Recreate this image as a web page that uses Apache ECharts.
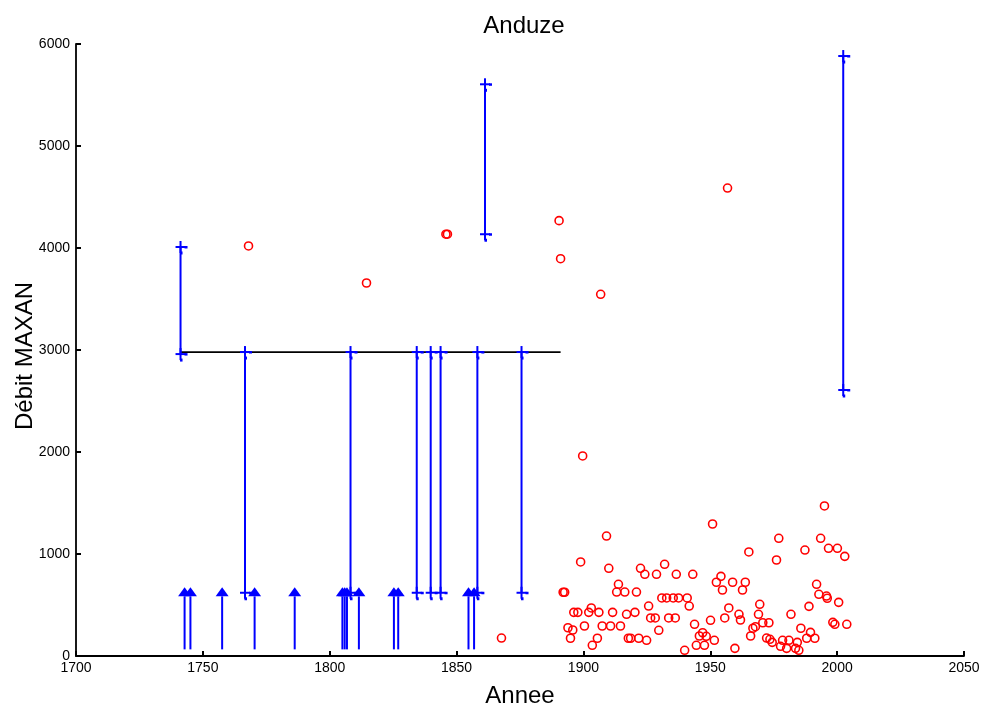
<!DOCTYPE html>
<html>
<head>
<meta charset="utf-8">
<script src="https://cdn.jsdelivr.net/npm/echarts@6/dist/echarts.min.js"></script>
<style>html,body{margin:0;padding:0;background:#fff}#c{width:981px;height:704px}</style>
</head>
<body>
<div id="c"></div>
<script>
// ---- data ----
var xTicks = [1700, 2050, 50];
var yTicks = [0, 6000, 1000];

// perception threshold line
var thresholdStart = 1741.2, thresholdEnd = 1891.0, thresholdValue = 2980;

// historical floods known as intervals [year, low, high]
var intervalYears = [1741.2, 1766.6, 1808.2, 1834.3, 1839.8, 1843.7, 1858.2, 1875.6, 1861.2, 2002.4];
var intervalLow   = [2960,   620,    620,    620,    620,    620,    620,    620,    4135,   2608];
var intervalHigh  = [4010,   2980,   2980,   2980,   2980,   2980,   2980,   2980,   5605,   5882];

// floods known only as lower bound (arrows)
var arrowYears = [1742.8, 1745.1, 1757.6, 1770.4, 1786.2, 1805.0, 1805.9, 1806.8, 1811.5, 1825.3, 1827.0, 1854.7, 1856.9];
var arrowLow = 65, arrowHigh = 673;

// observed maxima [year, value]
var observed = [
  [1768.0,4020],[1814.5,3657],[1845.8,4135],[1846.4,4135],[1867.7,176],
  [1890.4,4268],[1891.0,3895],[1906.8,3546],[1899.7,1961],[1956.8,4588],
  [1909.1,1176],[1898.9,922],[1910.0,860],[1950.9,1294],[1965.2,1020],[1892.0,625],[1892.6,625],
  [1922.5,860],[1924.2,801],[1928.8,801],[1932.0,899],[1936.6,801],[1943.1,801],[1913.8,703],
  [1913.1,627],[1916.3,627],[1920.9,627],[1952.4,723],[1954.2,781],[1954.8,647],[1958.8,723],
  [1963.8,723],[1962.7,647],[1930.9,569],[1932.8,569],[1935.4,569],[1937.5,569],[1940.9,569],
  [1925.7,490],[1941.7,490],[1903.1,471],[1896.2,428],[1897.8,428],[1902.1,428],[1906.1,428],
  [1911.5,428],[1917.0,409],[1920.3,428],[1926.5,373],[1928.3,373],[1933.6,373],[1936.2,373],
  [1957.3,471],[1955.7,373],[1961.3,409],[1961.9,353],[1969.5,507],[1969.0,409],[1893.9,277],
  [1895.8,255],[1900.4,294],[1907.4,294],[1910.7,294],[1914.6,294],[1943.8,311],[1950.1,350],
  [1929.7,252],[1894.9,174],[1905.5,174],[1903.5,105],[1917.7,174],[1918.6,174],[1921.8,174],
  [1924.9,154],[1939.9,56],[1944.5,105],[1947.7,105],[1945.7,196],[1947.0,228],[1948.4,193],
  [1951.6,154],[1959.7,75],[1965.9,196],[1966.8,272],[1967.8,287],
  [1995.0,1471],[1977.0,1154],[1993.5,1154],[1987.3,1039],[1996.6,1056],[2000.1,1056],
  [2003.0,977],[1976.1,941],[1991.9,703],[1992.8,605],[1995.8,588],[1996.1,566],[2000.6,526],
  [1988.9,487],[1981.8,409],[1970.7,326],[1973.1,326],[1972.2,176],[1973.5,164],[1974.4,134],
  [1978.5,154],[1981.0,154],[1984.3,134],[1977.7,95],[1980.1,75],[1983.6,75],[1984.9,56],
  [1985.7,272],[1989.5,232],[1988.0,174],[1991.2,174],[1998.3,330],[1999.1,311],[2003.8,311]
];

// ---- chart ----
var FONT = 'Liberation Sans, Arial, sans-serif';
var BLUE = '#0000ff';
var chart = echarts.init(document.getElementById('c'), null, {renderer: 'canvas'});

var intervalData = intervalYears.map(function (y, i) { return [y, intervalLow[i], intervalHigh[i]]; });
var arrowData = arrowYears.map(function (y) { return [y, arrowLow, arrowHigh]; });

function plusMarker(p, style) {
  return [
    {type: 'line', shape: {x1: p[0] - 5, y1: p[1], x2: p[0] + 5, y2: p[1]}, style: style},
    {type: 'line', shape: {x1: p[0], y1: p[1] - 6, x2: p[0], y2: p[1] + 6}, style: style},
    {type: 'rect', shape: {x: p[0] + 4, y: p[1] - 1, width: 3, height: 2.5}, style: {fill: BLUE}},
    {type: 'rect', shape: {x: p[0] - 0.5, y: p[1] + 4.5, width: 2.5, height: 3}, style: {fill: BLUE}}
  ];
}

function plain(v) { return String(v); }

var option = {
  animation: false,
  backgroundColor: '#ffffff',
  title: {
    text: 'Anduze', left: 519, top: 9, textAlign: 'center',
    textStyle: {fontFamily: FONT, fontSize: 24, fontWeight: 'normal', color: '#000'}
  },
  grid: {left: 76, right: 17, top: 44, bottom: 48, outerBoundsMode: 'none', containLabel: false},
  xAxis: {
    type: 'value', min: xTicks[0], max: xTicks[1], interval: xTicks[2],
    name: 'Annee', nameLocation: 'middle', nameGap: 28, nameMoveOverlap: false,
    nameTextStyle: {fontFamily: FONT, fontSize: 24, color: '#000'},
    axisLine: {lineStyle: {color: '#000', width: 1.8}},
    axisTick: {inside: true, length: 5, lineStyle: {color: '#000', width: 2}},
    axisLabel: {fontFamily: FONT, fontSize: 14, color: '#000', margin: 5, formatter: plain},
    splitLine: {show: false}
  },
  yAxis: {
    type: 'value', min: yTicks[0], max: yTicks[1], interval: yTicks[2],
    name: 'Débit MAXAN', nameLocation: 'middle', nameGap: 39, nameMoveOverlap: false,
    nameTextStyle: {fontFamily: FONT, fontSize: 24, color: '#000', padding: [0, 12, 0, 0]},
    axisLine: {lineStyle: {color: '#000', width: 1.8}},
    axisTick: {inside: true, length: 5, lineStyle: {color: '#000', width: 2}},
    axisLabel: {fontFamily: FONT, fontSize: 14, color: '#000', margin: 6, formatter: plain},
    splitLine: {show: false}
  },
  series: [
    {
      type: 'line', data: [[thresholdStart, thresholdValue], [thresholdEnd, thresholdValue]],
      symbol: 'none', lineStyle: {color: '#000', width: 1.8}, z: 2
    },
    {
      type: 'custom', data: intervalData, z: 3,
      renderItem: function (params, api) {
        var lo = api.coord([api.value(0), api.value(1)]);
        var hi = api.coord([api.value(0), api.value(2)]);
        var st = {stroke: BLUE, lineWidth: 2};
        var ch = [{type: 'line', shape: {x1: lo[0], y1: lo[1], x2: hi[0], y2: hi[1]}, style: st}];
        ch = ch.concat(plusMarker(lo, st), plusMarker(hi, st));
        return {type: 'group', children: ch};
      }
    },
    {
      type: 'custom', data: arrowData, z: 3,
      renderItem: function (params, api) {
        var lo = api.coord([api.value(0), api.value(1)]);
        var hi = api.coord([api.value(0), api.value(2)]);
        var base = hi[1] + 9;
        return {type: 'group', children: [
          {type: 'line', shape: {x1: lo[0], y1: lo[1], x2: lo[0], y2: base}, style: {stroke: BLUE, lineWidth: 2}},
          {type: 'polygon', shape: {points: [[hi[0], hi[1]], [hi[0] - 6.5, base], [hi[0] + 6.5, base]]}, style: {fill: BLUE}}
        ]};
      }
    },
    {
      type: 'scatter', data: observed, symbol: 'circle', symbolSize: 8, z: 4,
      itemStyle: {color: 'rgba(255,255,255,0)', borderColor: '#ff0000', borderWidth: 1.6, opacity: 1}
    }
  ]
};
chart.setOption(option);
</script>
</body>
</html>
